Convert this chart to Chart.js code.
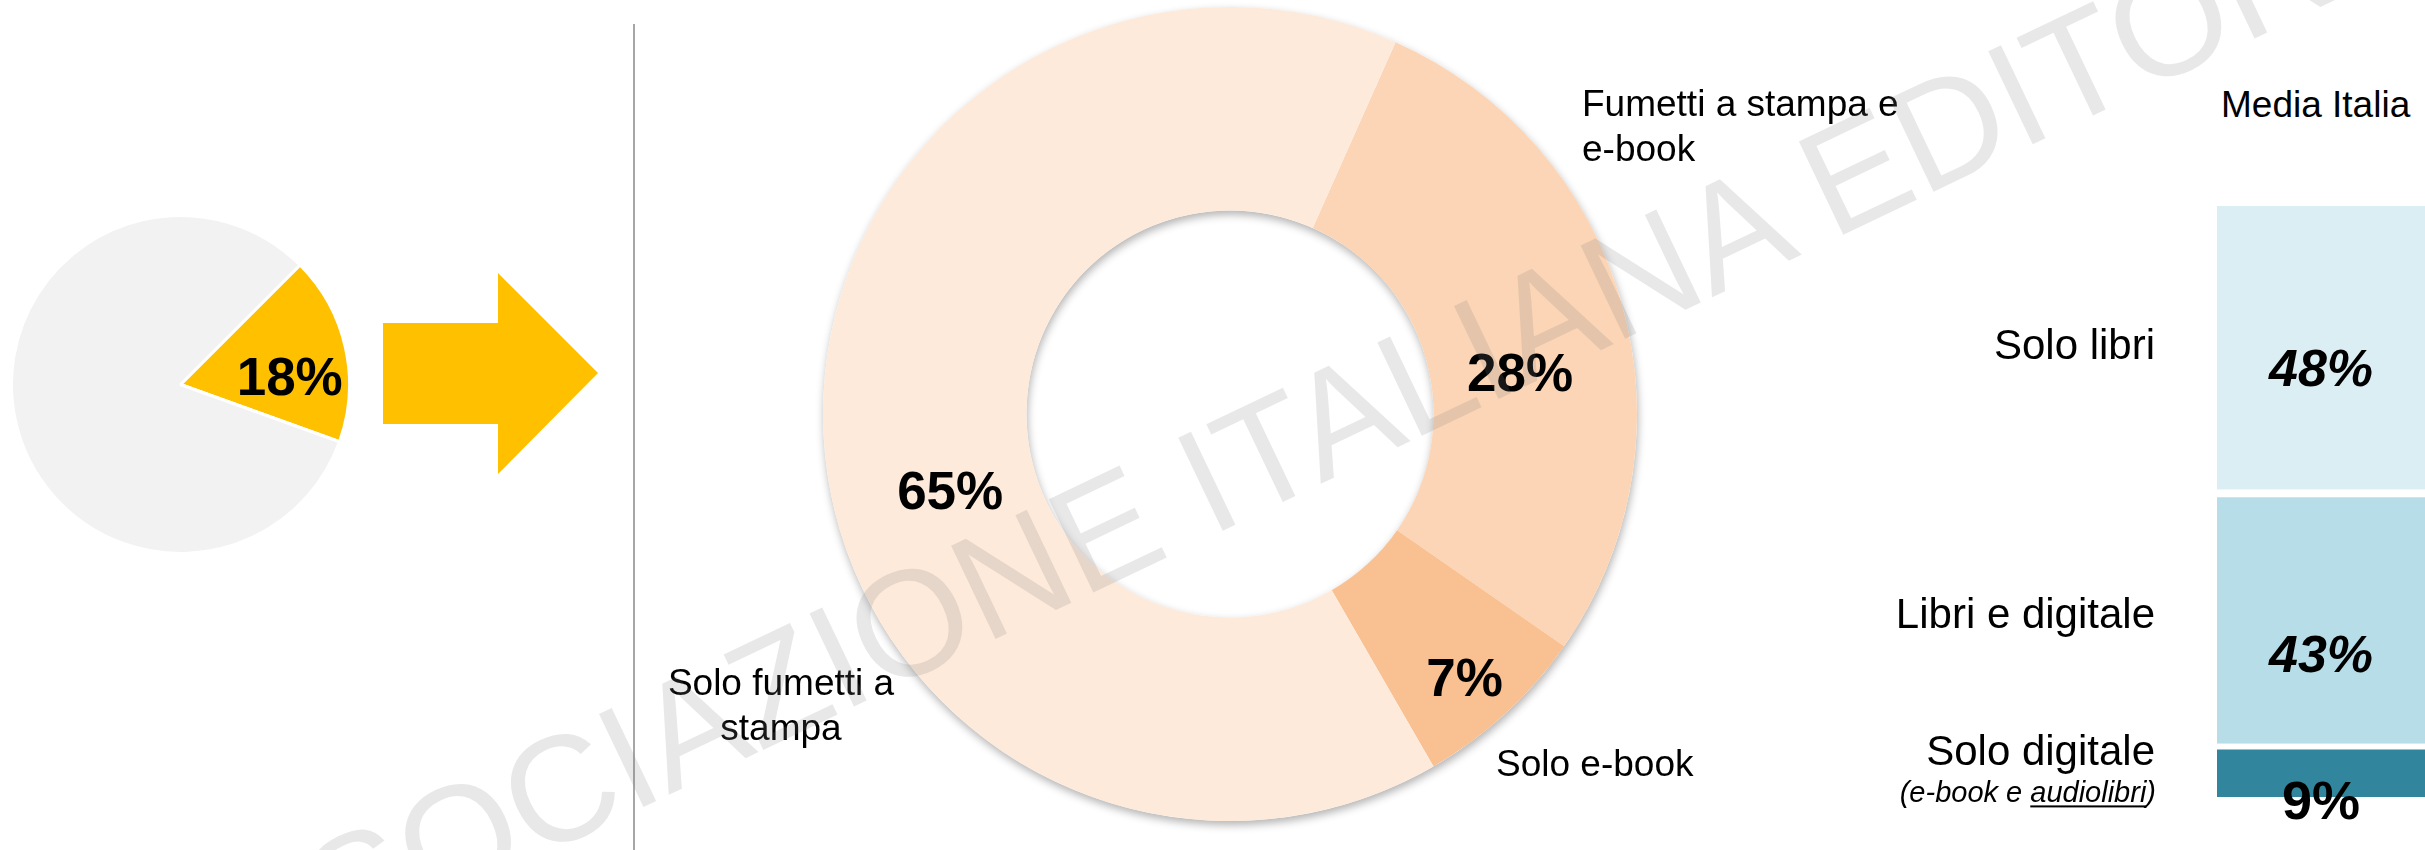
<!DOCTYPE html>
<html lang="it">
<head>
    <meta charset="UTF-8">
    <title>Lettori di fumetti e Media Italia</title>
    <script src="https://cdn.jsdelivr.net/npm/chart.js"></script>
    <style>
        body {
            margin: 0;
            width: 2425px;
            height: 850px;
            overflow: hidden;
            position: relative;
            background: #fff;
            font-family: "Liberation Sans", Arial, sans-serif;
            color: #000;
        }

        canvas, .lbl, .arrow, .vline, .watermark {
            position: absolute;
        }

        .lbl {
            font-size: 37px;
            line-height: 45px;
            white-space: nowrap;
            z-index: 2;
        }

        /* freccia gialla tra torta e ciambella */
        .arrow {
            left: 383px;
            top: 273px;
            width: 215px;
            height: 201px;
            background: #FFC000;
            clip-path: polygon(0 50px, 115px 50px, 115px 0, 215px 100px, 115px 201px, 115px 151px, 0 151px);
        }

        .vline {
            left: 633px;
            top: 24px;
            width: 2px;
            height: 826px;
            background: #a6a6a6;
        }

        .watermark {
            left: 157px;
            top: 912px;
            font-size: 150px;
            line-height: 150px;
            white-space: nowrap;
            color: rgba(128, 128, 128, 0.18);
            transform-origin: 0 127px;
            transform: rotate(-25.5deg);
            pointer-events: none;
            z-index: 10;
        }
    </style>
</head>
<body>

    <canvas id="pie" width="341" height="341" style="left:10px; top:214px;"></canvas>
    <div class="arrow"></div>
    <div class="vline"></div>

    <canvas id="donut" width="1350" height="850" style="left:640px; top:0;"></canvas>
    <div class="lbl" style="left:1582px; top:81px;">Fumetti a stampa e<br>e-book</div>
    <div class="lbl" style="left:631px; top:660px; width:300px; text-align:center;">Solo fumetti a<br>stampa</div>
    <div class="lbl" style="left:1496px; top:741px;">Solo e-book</div>

    <div class="lbl" style="left:2221px; top:82px;">Media Italia</div>
    <canvas id="bars" width="565" height="700" style="left:1860px; top:150px;"></canvas>

    <div class="watermark">ASSOCIAZIONE ITALIANA EDITORI</div>

    <script>
        // Dati
        const pieLabels = ['Leggono fumetti', 'Non leggono fumetti'];
        const pieValues = [18, 82];

        const donutLabels = ['Fumetti a stampa e e-book', 'Solo e-book', 'Solo fumetti a stampa'];
        const donutValues = [28, 7, 65];

        const barCategories = ['Solo libri', 'Libri e digitale', 'Solo digitale'];  // dall'alto in basso
        const barValues = [48, 43, 9];
        const barNotes = [null, null, ['(e-book e ', 'audiolibri', ')']];

        // Stili
        const FONT = '"Liberation Sans", Arial, sans-serif';
        Chart.defaults.font.family = FONT;

        const pieColors = ['#FFC000', '#F2F2F2'];
        const donutColors = ['#FBD5B5', '#F9C091', '#FDEADA'];
        const barColors = ['#DAEEF3', '#B7DDE8', '#31859C'];
        const barGapAbove = [0, 8, 6];   // striscia bianca sopra ogni blocco
        const valueFonts = ['italic bold 52px ' + FONT, 'italic bold 52px ' + FONT, 'bold 54px ' + FONT];
        const valueNudge = [38, 55, 49];

        // Etichette percentuali sugli spicchi
        const arcLabels = {
            id: 'arcLabels',
            afterDatasetsDraw(chart, args, opts) {
                const ctx = chart.ctx;
                const values = chart.data.datasets[0].data;
                ctx.save();
                ctx.font = 'bold ' + opts.size + 'px ' + FONT;
                ctx.fillStyle = '#000';
                ctx.textAlign = 'center';
                chart.getDatasetMeta(0).data.forEach((arc, i) => {
                    if (opts.skip && opts.skip.includes(i)) return;
                    const p = arc.getProps(['x', 'y', 'startAngle', 'endAngle', 'innerRadius', 'outerRadius']);
                    const mid = (p.startAngle + p.endAngle) / 2;
                    const r = p.innerRadius + (p.outerRadius - p.innerRadius) * opts.radial;
                    const n = opts.nudge[i] || [0, 0];
                    const x = p.x + Math.cos(mid) * r + n[0];
                    const y = p.y + Math.sin(mid) * r + n[1];
                    ctx.fillText(values[i] + '%', x, y + opts.size * 0.36);
                });
                ctx.restore();
            }
        };

        // Ombra leggera della ciambella
        const ringShadow = {
            id: 'ringShadow',
            beforeDatasetsDraw(chart) {
                const arc = chart.getDatasetMeta(0).data[0];
                const p = arc.getProps(['x', 'y', 'innerRadius', 'outerRadius']);
                const ctx = chart.ctx;
                ctx.save();
                ctx.shadowColor = 'rgba(0, 0, 0, 0.3)';
                ctx.shadowBlur = 8;
                ctx.shadowOffsetX = 1;
                ctx.shadowOffsetY = 4;
                ctx.fillStyle = '#fff';
                ctx.beginPath();
                ctx.arc(p.x, p.y, p.outerRadius, 0, Math.PI * 2);
                ctx.arc(p.x, p.y, p.innerRadius, 0, Math.PI * 2, true);
                ctx.fill();
                ctx.restore();
            }
        };

        // Etichette della barra Media Italia
        const barLabels = {
            id: 'barLabels',
            afterDatasetsDraw(chart) {
                const ctx = chart.ctx;
                const labelRight = chart.chartArea.left - 62;
                chart.data.datasets.forEach((ds, d) => {
                    const i = ds.catIndex;
                    const p = chart.getDatasetMeta(d).data[0].getProps(['x', 'y', 'base']);
                    const cy = (p.y + p.base) / 2;
                    ctx.save();
                    ctx.fillStyle = '#000';

                    ctx.textAlign = 'center';
                    ctx.font = valueFonts[i];
                    ctx.fillText(ds.data[0] + '%', p.x, cy + valueNudge[i]);

                    ctx.textAlign = 'right';
                    ctx.font = '42px ' + FONT;
                    const note = barNotes[i];
                    ctx.fillText(barCategories[i], labelRight, note ? cy - 5 : cy + 11);

                    if (note) {
                        ctx.font = 'italic 29px ' + FONT;
                        ctx.textAlign = 'left';
                        const widths = note.map(t => ctx.measureText(t).width);
                        let x = labelRight + 1 - widths.reduce((a, b) => a + b, 0);
                        const base = cy + 32;
                        note.forEach((t, k) => {
                            ctx.fillText(t, x, base);
                            if (k === 1) ctx.fillRect(x, base + 3, widths[k], 2);
                            x += widths[k];
                        });
                    }
                    ctx.restore();
                });
            }
        };

        new Chart(document.getElementById('pie'), {
            type: 'pie',
            data: {
                labels: pieLabels,
                datasets: [{
                    data: pieValues,
                    backgroundColor: pieColors,
                    borderColor: '#fff',
                    borderWidth: 3
                }]
            },
            options: {
                responsive: false,
                animation: false,
                events: [],
                rotation: 45,
                plugins: {
                    legend: { display: false },
                    tooltip: { enabled: false },
                    arcLabels: { size: 53, radial: 0.65, skip: [1], nudge: [[2, 15]] }
                }
            },
            plugins: [arcLabels]
        });

        new Chart(document.getElementById('donut'), {
            type: 'doughnut',
            data: {
                labels: donutLabels,
                datasets: [{
                    data: donutValues,
                    backgroundColor: donutColors,
                    borderWidth: 0
                }]
            },
            options: {
                responsive: false,
                animation: false,
                events: [],
                rotation: 24,
                cutout: '50%',
                layout: { padding: { left: 183, right: 353, top: 7, bottom: 29 } },
                plugins: {
                    legend: { display: false },
                    tooltip: { enabled: false },
                    arcLabels: { size: 53, radial: 0.5, nudge: [[-4, 40], [28, 38], [25, 60]] }
                }
            },
            plugins: [ringShadow, arcLabels]
        });

        // i dataset vanno impilati dal basso verso l'alto
        const stackOrder = [2, 1, 0];
        new Chart(document.getElementById('bars'), {
            type: 'bar',
            data: {
                labels: ['Media Italia'],
                datasets: stackOrder.map(i => ({
                    label: barCategories[i],
                    data: [barValues[i]],
                    backgroundColor: barColors[i],
                    borderColor: '#fff',
                    borderWidth: { top: barGapAbove[i], right: 0, bottom: 0, left: 0 },
                    borderSkipped: false,
                    catIndex: i
                }))
            },
            options: {
                responsive: false,
                animation: false,
                events: [],
                barPercentage: 1,
                categoryPercentage: 1,
                layout: { padding: { left: 357, right: 0, top: 56, bottom: 53 } },
                scales: {
                    x: { display: false, stacked: true },
                    y: { display: false, stacked: true, min: 0, max: 100 }
                },
                plugins: {
                    legend: { display: false },
                    tooltip: { enabled: false }
                }
            },
            plugins: [barLabels]
        });
    </script>

</body>
</html>
